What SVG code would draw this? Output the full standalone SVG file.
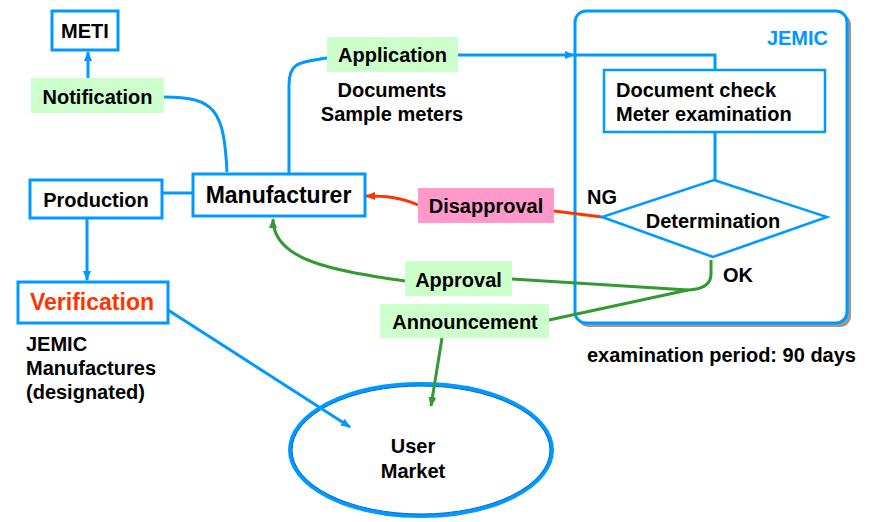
<svg xmlns="http://www.w3.org/2000/svg" width="877" height="522" viewBox="0 0 877 522">
<style>
text{font-family:"Liberation Sans",Arial,sans-serif;font-weight:bold;font-size:20px;fill:#000}
.c{text-anchor:middle}
.box{fill:#fff;stroke:#0099ff;stroke-width:3}
.bl{fill:none;stroke:#0099ff;stroke-width:3}
.gr{fill:none;stroke:#339933;stroke-width:3}
.rd{fill:none;stroke:#ff3300;stroke-width:3}
.lg{fill:#ccffcc}
</style>
<defs>
<marker id="ab" markerWidth="10" markerHeight="8" refX="9" refY="4" orient="auto" markerUnits="userSpaceOnUse"><path d="M0,0 L10,4 L0,8 Z" fill="#0099ff"/></marker>
<marker id="ag" markerWidth="10" markerHeight="8" refX="9" refY="4" orient="auto" markerUnits="userSpaceOnUse"><path d="M0,0 L10,4 L0,8 Z" fill="#339933"/></marker>
<marker id="ar" markerWidth="10" markerHeight="8" refX="9" refY="4" orient="auto" markerUnits="userSpaceOnUse"><path d="M0,0 L10,4 L0,8 Z" fill="#ff3300"/></marker>
</defs>

<g id="jemic">
<rect x="578" y="14" width="273" height="313" rx="11" fill="#999"/>
<rect x="575" y="11" width="272" height="312" rx="11" fill="#fff" stroke="#0099ff" stroke-width="3"/>
<text x="828" y="45" text-anchor="end" style="fill:#0099ff">JEMIC</text>
</g>

<g id="market">
<ellipse cx="421" cy="450" rx="131" ry="66" fill="#fff" stroke="#0099ff" stroke-width="4"/>
<ellipse cx="421" cy="450" rx="129" ry="64" fill="none" stroke="#0066cc" stroke-width="1"/>
<text class="c" x="413" y="453">User</text>
<text class="c" x="413" y="478">Market</text>
</g>

<g id="connectors">
<path class="bl" d="M88,78 L88,52" marker-end="url(#ab)"/>
<path class="bl" d="M164,97 C215,97 224,110 227,172"/>
<path class="bl" d="M157,193 L192,193"/>
<path class="bl" d="M87,218 L87,280" marker-end="url(#ab)"/>
<path class="bl" d="M289,173 L289,85 C289,62 300,62 327,58"/>
<path class="bl" d="M458,55 L574,55" marker-end="url(#ab)"/>
<path class="bl" d="M575,55 L715,55 L715,69"/>
<path class="bl" d="M715,132 L715,180"/>
<path class="bl" d="M168,310 L350,427" marker-end="url(#ab)"/>
<path class="rd" d="M602,217 L554,211"/>
<path class="rd" d="M418,205 C400,197 385,196 366,196" marker-end="url(#ar)"/>
<path class="gr" d="M711,260 L711,274 Q711,289 688,290 L512,279"/>
<path class="gr" d="M688,290 L549,320"/>
<path class="gr" d="M405,281 C330,270 273,260 273,219" marker-end="url(#ag)"/>
<path class="gr" d="M442,338 L431,406" marker-end="url(#ag)"/>
</g>

<g id="meti">
<rect class="box" x="52" y="11" width="66" height="39"/>
<text class="c" x="85" y="38">METI</text>
</g>

<g id="notification">
<rect class="lg" x="31" y="78" width="133" height="35"/>
<text class="c" x="97.5" y="104">Notification</text>
</g>

<g id="production">
<rect class="box" x="30" y="180" width="132" height="38"/>
<text class="c" x="96" y="207">Production</text>
</g>

<g id="manufacturer">
<rect class="box" x="193" y="174" width="172" height="42"/>
<text class="c" x="278.5" y="203" style="font-size:23px">Manufacturer</text>
</g>

<g id="application">
<rect class="lg" x="327" y="37" width="131" height="35"/>
<text class="c" x="392.5" y="62">Application</text>
<text class="c" x="392" y="97">Documents</text>
<text class="c" x="392" y="121">Sample meters</text>
</g>

<g id="doccheck">
<rect x="604" y="70" width="221" height="62" fill="#fff" stroke="#0099ff" stroke-width="2.5"/>
<text x="616" y="97">Document check</text>
<text x="616" y="121">Meter examination</text>
</g>

<g id="determination">
<path d="M714,180 L827,217 L713,257 L602,217 Z" fill="#fff" stroke="#0099ff" stroke-width="2.5"/>
<text class="c" x="713" y="228">Determination</text>
<text x="587" y="204">NG</text>
<text x="723" y="282">OK</text>
</g>

<g id="disapproval">
<rect x="418" y="188" width="136" height="35" fill="#ff99cc"/>
<text class="c" x="486" y="213">Disapproval</text>
</g>

<g id="approval">
<rect class="lg" x="405" y="261" width="107" height="35"/>
<text class="c" x="458.5" y="287">Approval</text>
</g>

<g id="announcement">
<rect class="lg" x="380" y="304" width="169" height="34"/>
<text class="c" x="465" y="329">Announcement</text>
</g>

<g id="verification">
<rect class="box" x="18" y="282" width="150" height="41"/>
<text class="c" x="92" y="310" style="font-size:23px;fill:#ff3300">Verification</text>
<text x="26" y="351">JEMIC</text>
<text x="26" y="375">Manufactures</text>
<text x="26" y="399">(designated)</text>
</g>

<text x="587" y="362">examination period: 90 days</text>
</svg>
